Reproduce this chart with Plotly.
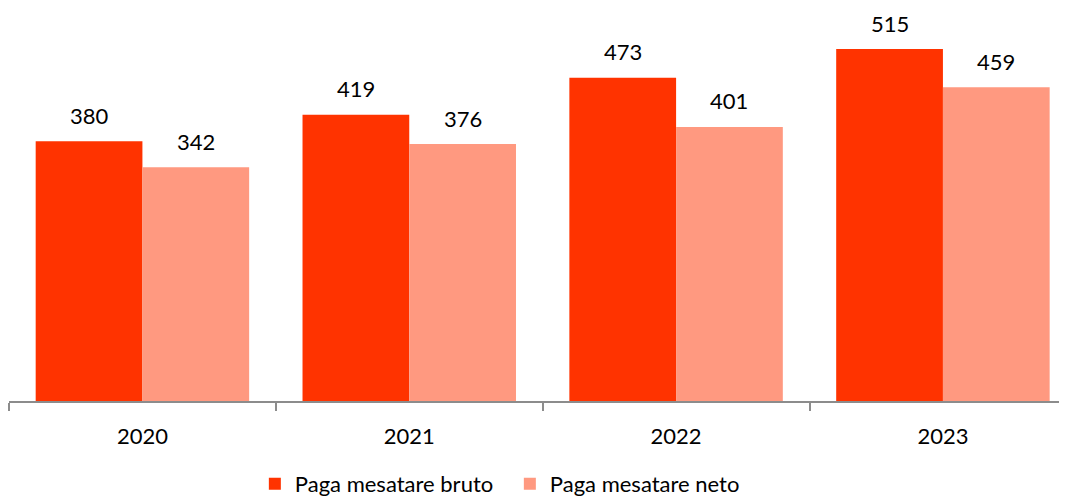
import plotly.graph_objects as go

years = ["2020", "2021", "2022", "2023"]
bruto = [380, 419, 473, 515]
neto = [342, 376, 401, 459]
series_names = ["Paga mesatare bruto", "Paga mesatare neto"]
colors = ["#FF3300", "#FF9980"]

FONT = "Lato"
FS = 22

fig = go.Figure()
for name, vals, col in zip(series_names, [bruto, neto], colors):
    fig.add_trace(go.Bar(x=years, y=vals, name=name, marker=dict(color=col, line=dict(width=0))))

for vals, shift in [(bruto, -53.4), (neto, 53.4)]:
    for i, v in enumerate(vals):
        fig.add_annotation(x=i, y=v, text=str(v), showarrow=False, xref="x", yref="y",
                           xshift=shift, yshift=26, yanchor="middle", xanchor="center",
                           font=dict(family=FONT, size=FS, color="#000000"))

fig.update_layout(
    width=1051, height=488,
    margin=dict(l=1, r=0, t=2, b=95, autoexpand=False),
    paper_bgcolor="white", plot_bgcolor="white",
    barmode="group", bargap=0.2, bargroupgap=0,
    font=dict(family=FONT, size=FS, color="#000000"),
    legend=dict(orientation="h", x=0.477, xanchor="center", y=-0.212, yanchor="middle",
                font=dict(family=FONT, size=FS, color="#000000"),
                entrywidth=210, tracegroupgap=0, itemclick=False),
    showlegend=True,
)
fig.update_xaxes(type="category", range=[-0.5, 3.435], showline=True, linecolor="#8c8c8c", linewidth=2,
                 ticks="outside", tickson="boundaries", ticklen=8, tickcolor="#8c8c8c", tickwidth=2,
                 ticklabelstandoff=15, showgrid=False, zeroline=False, automargin=False,
                 tickfont=dict(family=FONT, size=FS, color="#000000"))
fig.update_yaxes(range=[0, 572.1], showticklabels=False, showline=False, ticks="",
                 showgrid=False, zeroline=False, automargin=False)

fig.write_html("out.html")
